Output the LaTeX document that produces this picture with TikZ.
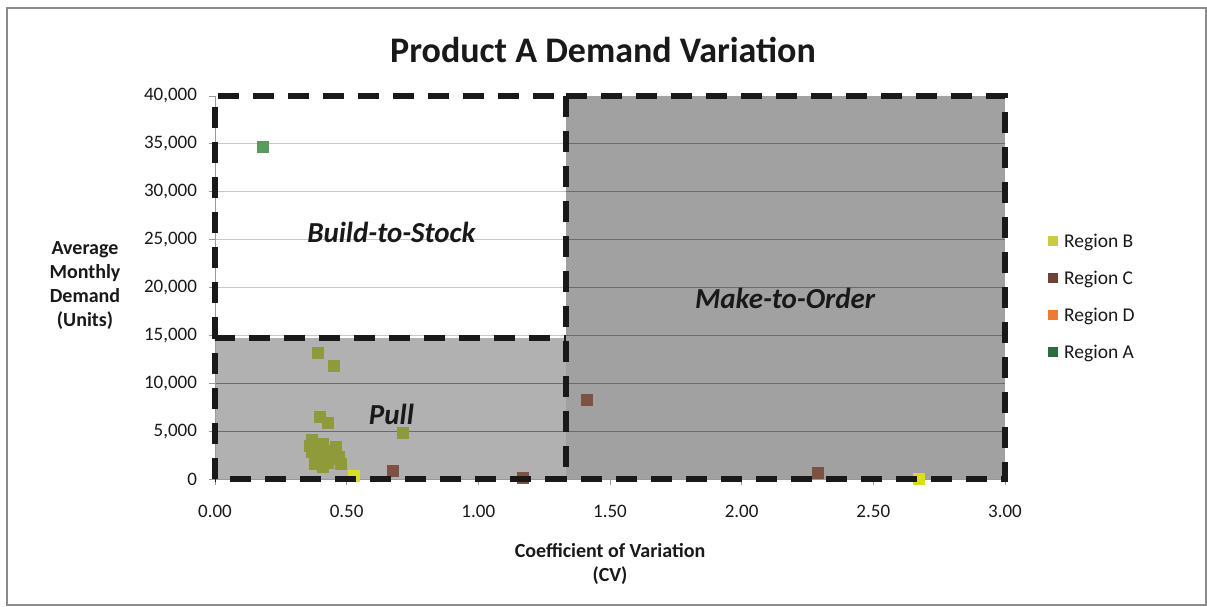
\documentclass[tikz,border=0pt]{standalone}
\usepackage{fontspec}
\setmainfont{Carlito}
\begin{document}
\begin{tikzpicture}[x=1pt,y=-1pt,
  framebox/.style={draw=black!45,line width=1.1pt},
  zonefence/.style={draw=black!90,line width=5.8pt,dash pattern=on 21pt off 14pt},
  gridlight/.style={draw=black!22,line width=0.8pt},
  griddark/.style={draw=black!58,line width=0.9pt},
  axisline/.style={draw=black!40,line width=0.8pt},
  ticklabel/.style={font=\fontsize{19}{22}\selectfont,text=black!90,inner sep=0pt},
  axistitle/.style={font=\bfseries\fontsize{20}{24}\selectfont,text=black!90,align=center,inner sep=0pt},
  zonelabel/.style={font=\bfseries\itshape\fontsize{29}{32}\selectfont,text=black!90,inner sep=0pt},
  marker/.style={rectangle,minimum size=12pt,inner sep=0pt,draw=none},
  swatch/.style={rectangle,minimum size=10pt,inner sep=0pt,draw=none},
  legendtext/.style={font=\fontsize{19.5}{22}\selectfont,text=black!90,anchor=west,inner sep=0pt}
]
\definecolor{regB}{HTML}{C9CC3C}
\definecolor{regBgrey}{HTML}{8F9A3A}
\definecolor{regByellow}{HTML}{DCDC22}
\definecolor{regC}{HTML}{6E4234}
\definecolor{regCpt}{HTML}{7D5242}
\definecolor{regD}{HTML}{EE7A34}
\definecolor{regA}{HTML}{2F6B40}
\definecolor{regApt}{HTML}{5A9A5E}
\definecolor{pullfill}{HTML}{B1B1B1}
\definecolor{mtofill}{HTML}{A1A1A1}

\useasboundingbox (0,0) rectangle (1207,607);
\fill[white] (0,0) rectangle (1207,607);
\draw[framebox] (7,8) rectangle (1206,605);

% title
\node[font=\bfseries\fontsize{36}{40}\selectfont,text=black!90] (title) at (603,50) {Product A Demand Variation};

% data area: CV along x, demand (thousands of units) along y
\begin{scope}[shift={(215,479)},x=263.33pt,y=9.575pt]
  % shaded zones
  \fill[pullfill] (0,0) rectangle (1.333,14.7);
  \fill[mtofill] (1.333,0) rectangle (3,40);

  % horizontal gridlines
  \foreach \v in {5,10} \draw[griddark] (0,\v) -- (3,\v);
  \foreach \v in {15,20,25,30,35} {
    \draw[gridlight] (0,\v) -- (1.333,\v);
    \draw[griddark] (1.333,\v) -- (3,\v);
  }

  % axes and ticks
  \draw[axisline] (0,0) -- (3,0);
  \draw[axisline] (0,0) -- (0,40);
  \foreach \v in {0,5,...,40} \draw[axisline] (-0.024,\v) -- (0,\v);
  \foreach \c in {0,0.5,...,3} \draw[axisline] (\c,0) -- (\c,-0.65);

  % tick labels
  \foreach \v/\t in {0/0,5/{5,000},10/{10,000},15/{15,000},20/{20,000},25/{25,000},30/{30,000},35/{35,000},40/{40,000}}
    \node[ticklabel,anchor=east] (ylab\v) at (-0.068,\v) {\t};
  \foreach \c/\t [count=\i] in {0/0.00,0.5/0.50,1/1.00,1.5/1.50,2/2.00,2.5/2.50,3/3.00}
    \node[ticklabel] (xlab\i) at (\c,-3.35) {\t};

  % Region B
  \foreach \c/\d [count=\i] in {0.39/13.2,0.45/11.8,0.40/6.5,0.43/5.9,0.37/4.1,0.41/3.7,
      0.40/3.2,0.37/2.8,0.42/2.7,0.39/2.0,0.44/2.1,0.47/2.3,0.38/1.6,0.715/4.8,
      0.36/3.4,0.38/3.6,0.45/2.9,0.43/1.7,0.48/1.6,0.41/1.3,0.46/3.3}
    \node[marker,fill=regBgrey] (ptB\i) at (\c,\d) {};
  \node[marker,fill=regByellow] (ptB22) at (0.528,0.3) {};
  \node[marker,fill=regByellow] (ptB23) at (2.675,0.0) {};

  % Region C
  \node[marker,fill=regCpt] (ptC1) at (0.676,0.85) {};
  \node[marker,fill=regCpt] (ptC2) at (1.17,0.1) {};
  \node[marker,fill=regCpt] (ptC3) at (1.413,8.2) {};
  \node[marker,fill=regCpt] (ptC4) at (2.29,0.62) {};

  % Region A
  \node[marker,fill=regApt] (ptA1) at (0.182,34.65) {};

  % zone fences
  \draw[zonefence] (0,14.7) -- (0,40) -- (1.333,40);
  \draw[zonefence] (1.333,40) -- (3,40) -- (3,0) -- (1.333,0);
  \draw[zonefence] (0,0) -- (0,14.7) -- (1.333,14.7);
  \draw[zonefence] (1.333,0) -- (0,0);
  \draw[zonefence] (1.333,40) -- (1.333,0);

  % zone names
  \node[zonelabel] (bts) at (0.67,25.8) {Build-to-Stock};
  \node[zonelabel] (mto) at (2.165,18.9) {Make-to-Order};
  \node[zonelabel] (pull) at (0.67,6.7) {Pull};
\end{scope}

% axis titles
\node[axistitle] (ytitle) at (85,286) {Average\\Monthly\\Demand\\(Units)};
\node[axistitle] (xtitle) at (610,564) {Coefficient of Variation\\(CV)};

% legend
\node[swatch,fill=regB] (swB) at (1053,241) {};
\node[legendtext] (lgB) at (1064,242) {Region B};
\node[swatch,fill=regC] (swC) at (1053,278) {};
\node[legendtext] (lgC) at (1064,279) {Region C};
\node[swatch,fill=regD] (swD) at (1053,315) {};
\node[legendtext] (lgD) at (1064,316) {Region D};
\node[swatch,fill=regA] (swA) at (1053,352) {};
\node[legendtext] (lgA) at (1064,353) {Region A};
\end{tikzpicture}
\end{document}
